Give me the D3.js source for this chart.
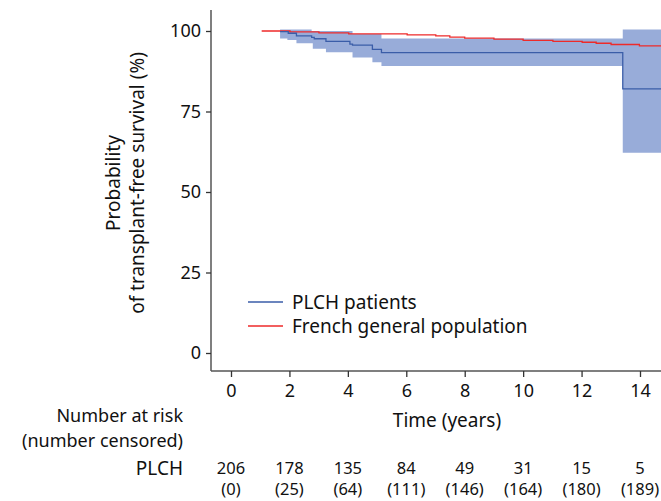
<!DOCTYPE html>
<html>
<head>
<meta charset="utf-8">
<script src="https://cdn.jsdelivr.net/npm/d3@7"></script>
<style>
  body { margin: 0; background: #fff; }
  text { font-family: "Noto Sans", sans-serif; fill: #111; }
</style>
</head>
<body>
<svg id="km" width="661" height="501"></svg>
<script>
// PLCH Kaplan-Meier estimate (step starts) with 95% CI
var plchTime  = [1.68, 1.96, 2.24, 2.76, 2.85, 3.25, 4.07, 4.16, 4.84, 5.15, 13.41, 14.8];
var plchSurv  = [99.8, 99.3, 98.5, 98.0, 97.6, 96.8, 95.9, 95.6, 94.3, 93.3, 82.0, 82.0];
var plchLowT  = [1.68, 1.93, 2.24, 2.80, 3.25, 4.16, 4.84, 5.15, 13.41, 14.8];
var plchLow   = [97.7, 97.2, 96.2, 94.5, 93.4, 91.8, 90.3, 89.1, 62.2, 62.2];
var plchUpT   = [1.68, 2.76, 4.16, 5.15, 13.41, 14.8];
var plchUp    = [100.5, 100, 99.1, 97.7, 100.5, 100.5];

// expected survival of the French general population
var frTime = [1.05, 2.02, 3.01, 4.03, 6.03, 7.01, 7.49, 8.0, 9.0, 10.0, 11.02, 12.02, 12.5, 13.01, 13.98, 14.8];
var frSurv = [100, 99.7, 99.4, 99.1, 98.8, 98.5, 98.1, 97.8, 97.5, 97.1, 96.8, 96.5, 96.2, 95.8, 95.4, 95.4];

var xTicks = [0, 2, 4, 6, 8, 10, 12, 14];
var yTicks = [0, 25, 50, 75, 100];
var atRisk = [206, 178, 135, 84, 49, 31, 15, 5];
var censored = [0, 25, 64, 111, 146, 164, 180, 189];

var fsWord = "19px", fsNum = "16.5px";

var svg = d3.select("#km");

var x = d3.scaleLinear().domain([0, 14]).range([231, 640]);
var y = d3.scaleLinear().domain([0, 100]).range([353, 31]);

var axisLeftX = 211, axisBottomY = 371;

// band needs one merged set of step times
function stepVal(ts, vs, t) {
  var v = vs[0];
  for (var i = 0; i < ts.length; i++) if (ts[i] <= t) v = vs[i];
  return v;
}
var bandT = Array.from(new Set(plchLowT.concat(plchUpT))).sort(function(a, b) { return a - b; });
var band = bandT.map(function(t) {
  return {t: t, lo: stepVal(plchLowT, plchLow, t), hi: stepVal(plchUpT, plchUp, t)};
});

var plot = svg.append("g");
svg.append("clipPath").attr("id", "clip")
  .append("rect").attr("x", axisLeftX).attr("y", 0).attr("width", 661 - axisLeftX).attr("height", axisBottomY);
plot.attr("clip-path", "url(#clip)");

plot.append("path")
    .datum(band)
    .attr("fill", "#98acd9")
    .attr("d", d3.area()
      .curve(d3.curveStepAfter)
      .x(function(d) { return x(d.t); })
      .y0(function(d) { return y(d.lo); })
      .y1(function(d) { return y(d.hi); }));

plot.append("path")
    .datum(frTime.map(function(t, i) { return [t, frSurv[i]]; }))
    .attr("fill", "none")
    .attr("stroke", "#ee2a2a")
    .attr("stroke-width", 1.3)
    .attr("d", d3.line().curve(d3.curveStepAfter)
      .x(function(d) { return x(d[0]); })
      .y(function(d) { return y(d[1]); }));

plot.append("path")
    .datum(plchTime.map(function(t, i) { return [t, plchSurv[i]]; }))
    .attr("fill", "none")
    .attr("stroke", "#3a5da8")
    .attr("stroke-width", 1.3)
    .attr("d", d3.line().curve(d3.curveStepAfter)
      .x(function(d) { return x(d[0]); })
      .y(function(d) { return y(d[1]); }));

// axes
var yAxis = svg.append("g")
    .attr("transform", "translate(" + axisLeftX + ",0)")
    .call(d3.axisLeft(y).tickValues(yTicks).tickSize(5).tickPadding(5));
yAxis.select(".domain").attr("d", "M0,10V" + axisBottomY);

var xAxis = svg.append("g")
    .attr("transform", "translate(0," + axisBottomY + ")")
    .call(d3.axisBottom(x).tickValues(xTicks).tickSize(6).tickPadding(7));
xAxis.select(".domain").attr("d", "M" + axisLeftX + ",0H661");

svg.selectAll(".domain").attr("stroke", "#555").attr("stroke-width", 1.5);
svg.selectAll(".tick line").attr("stroke", "#333").attr("stroke-width", 1.3);
svg.selectAll(".tick text")
    .style("font-family", "'Noto Sans', sans-serif")
    .style("font-size", "18px")
    .attr("fill", "#111");

// y label
var yl = svg.append("text")
    .attr("transform", "translate(125,183) rotate(-90)")
    .attr("text-anchor", "middle")
    .style("font-size", fsWord);
yl.append("tspan").attr("x", 0).attr("dy", "-0.25em").text("Probability");
yl.append("tspan").attr("x", 0).attr("dy", "1.25em").text("of transplant-free survival (%)");

svg.append("text")
    .attr("x", 447).attr("y", 427)
    .attr("text-anchor", "middle")
    .style("font-size", fsWord)
    .text("Time (years)");

// legend
var legend = [
  {label: "PLCH patients", color: "#3a5da8"},
  {label: "French general population", color: "#ee2a2a"}
];
var lg = svg.selectAll(".legend").data(legend).enter().append("g")
    .attr("transform", function(d, i) { return "translate(248," + (302 + i * 24) + ")"; });
lg.append("line").attr("x1", 0).attr("x2", 35).attr("stroke", function(d) { return d.color; }).attr("stroke-width", 1.3);
lg.append("text").attr("x", 44).attr("dy", "0.35em").style("font-size", fsWord).text(function(d) { return d.label; });

// risk table
svg.append("text").attr("x", 183).attr("y", 422).attr("text-anchor", "end").style("font-size", "18px").text("Number at risk");
svg.append("text").attr("x", 183).attr("y", 447).attr("text-anchor", "end").style("font-size", "18px").text("(number censored)");
svg.append("text").attr("x", 183).attr("y", 475).attr("text-anchor", "end").style("font-size", fsWord).text("PLCH");

svg.selectAll(".risk").data(xTicks).enter().append("text")
    .attr("x", function(d) { return x(d); })
    .attr("y", 474)
    .attr("text-anchor", "middle")
    .style("font-size", fsNum)
    .text(function(d, i) { return atRisk[i]; });
svg.selectAll(".cens").data(xTicks).enter().append("text")
    .attr("x", function(d) { return x(d); })
    .attr("y", 495)
    .attr("text-anchor", "middle")
    .style("font-size", fsNum)
    .text(function(d, i) { return "(" + censored[i] + ")"; });
</script>
</body>
</html>
